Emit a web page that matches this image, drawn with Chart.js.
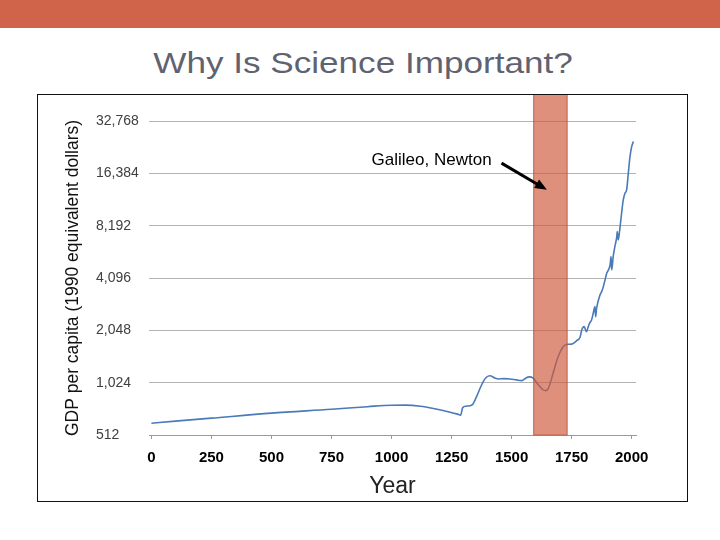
<!DOCTYPE html>
<html>
<head>
<meta charset="utf-8">
<script src="https://cdn.jsdelivr.net/npm/chart.js@4.4.1/dist/chart.umd.min.js"></script>
<style>
  body { margin: 0; width: 720px; height: 540px; background: #fff; position: relative; overflow: hidden; font-family: "Liberation Sans", Arial, sans-serif; }
  #bar { position: absolute; left: 0; top: 0; width: 720px; height: 28px; background: #d0644a; }
  #title { position: absolute; left: 3px; top: 48px; width: 720px; text-align: center; font-size: 30px; line-height: 30px; color: #5f6371; transform: scaleX(1.17); }
  #frame { position: absolute; left: 37px; top: 94px; width: 649px; height: 406px; border: 1px solid #111; }
  #frame canvas { position: absolute; left: 0; top: 0; }
</style>
</head>
<body>
<div id="bar"></div>
<div id="title">Why Is Science Important?</div>
<div id="frame"><canvas id="myChart" width="649" height="406"></canvas></div>
<script>
// world GDP per capita
const years = [0, 100, 250, 500, 750, 900, 1000, 1060, 1120, 1180, 1240, 1275, 1288, 1296, 1310, 1335,
  1354, 1370, 1382, 1395, 1410, 1430, 1444, 1470, 1493, 1520, 1542, 1560, 1572, 1590, 1605, 1618,
  1632, 1642, 1653, 1673, 1694, 1715, 1733, 1750, 1771, 1785, 1792, 1802, 1812, 1819, 1826, 1833,
  1840, 1847, 1850, 1854, 1868, 1875, 1882, 1889, 1896, 1903, 1910, 1914, 1917, 1923, 1930, 1938,
  1940, 1944, 1951, 1958, 1965, 1972, 1979, 1986, 1993, 2000, 2007];
const gdp = [598, 615, 640, 684, 720, 745, 760, 761, 750, 725, 695, 675, 666, 735, 750, 762,
  851, 960, 1039, 1100, 1122, 1090, 1076, 1080, 1076, 1062, 1052, 1090, 1105, 1086, 1020, 972,
  930, 922, 950, 1163, 1447, 1649, 1703, 1705, 1786, 1870, 2056, 2150, 2012, 2150, 2267, 2351,
  2570, 2805, 2455, 2745, 3270, 3420, 3655, 3990, 4360, 4555, 4865, 5435, 4555, 5435, 6200, 7085,
  7570, 6780, 7920, 9660, 11510, 12580, 13150, 16400, 20420, 23330, 24940];

const yTicks = [512, 1024, 2048, 4096, 8192, 16384, 32768];
const xTicks = [0, 250, 500, 750, 1000, 1250, 1500, 1750, 2000];

// shaded period and the note pointing at it
const band = [1590, 1733];
const note = ["Galileo, Newton", 917, 18340];
const arrow = [1458, 18750, 1647, 13170];

Chart.defaults.font.family = '"Liberation Sans", Arial, sans-serif';

const extras = {
  id: "extras",
  afterDatasetsDraw(chart) {
    const { ctx, scales: { x, y } } = chart;
    const x0 = x.getPixelForValue(band[0]);
    const x1 = x.getPixelForValue(band[1]);
    const yb = y.getPixelForValue(yTicks[0]);
    ctx.save();
    ctx.fillStyle = "rgba(208,92,62,0.68)";
    ctx.fillRect(x0, 0, x1 - x0, yb);
    ctx.strokeStyle = "rgba(175,68,45,0.6)";
    ctx.lineWidth = 1;
    ctx.strokeRect(x0 + 0.5, -1, x1 - x0 - 1, yb + 1);

    ctx.font = '17px "Liberation Sans", Arial, sans-serif';
    ctx.fillStyle = "#000";
    ctx.textBaseline = "alphabetic";
    ctx.textAlign = "left";
    ctx.fillText(note[0], x.getPixelForValue(note[1]), y.getPixelForValue(note[2]));

    const ax0 = x.getPixelForValue(arrow[0]), ay0 = y.getPixelForValue(arrow[1]);
    const ax1 = x.getPixelForValue(arrow[2]), ay1 = y.getPixelForValue(arrow[3]);
    const ang = Math.atan2(ay1 - ay0, ax1 - ax0);
    const head = 12;
    ctx.strokeStyle = "#000";
    ctx.lineWidth = 3;
    ctx.beginPath();
    ctx.moveTo(ax0, ay0);
    ctx.lineTo(ax1 - head * 0.8 * Math.cos(ang), ay1 - head * 0.8 * Math.sin(ang));
    ctx.stroke();
    ctx.beginPath();
    ctx.moveTo(ax1, ay1);
    ctx.lineTo(ax1 - head * Math.cos(ang) + 5 * Math.sin(ang), ay1 - head * Math.sin(ang) - 5 * Math.cos(ang));
    ctx.lineTo(ax1 - head * Math.cos(ang) - 5 * Math.sin(ang), ay1 - head * Math.sin(ang) + 5 * Math.cos(ang));
    ctx.closePath();
    ctx.fillStyle = "#000";
    ctx.fill();
    ctx.restore();
  },
};

const config = {
  type: "line",
  data: {
    datasets: [
      {
        label: "GDP per capita",
        data: years.map((yr, i) => ({ x: yr, y: gdp[i] })),
        borderColor: "#4a7ab8",
        borderWidth: 1.6,
        pointRadius: 0,
        cubicInterpolationMode: "monotone",
        fill: false,
      },
    ],
  },
  plugins: [extras],
  options: {
    responsive: false,
    animation: false,
    layout: { padding: { left: 58, top: 26, right: 51, bottom: 0 } },
    plugins: {
      legend: { display: false },
      tooltip: { enabled: false },
    },
    scales: {
      x: {
        type: "linear",
        min: -10,
        max: 2018,
        afterBuildTicks: (s) => { s.ticks = xTicks.map((v) => ({ value: v })); },
        afterFit: (s) => { s.height = 66; s.paddingLeft = 0; s.paddingRight = 0; },
        grid: { drawOnChartArea: false, drawTicks: true, tickLength: 4, color: "#9a9a9a" },
        border: { color: "#9a9a9a" },
        ticks: {
          padding: 10,
          color: "#000",
          font: { size: 15, weight: "bold" },
          maxRotation: 0,
          autoSkip: false,
          callback: (v) => String(v),
        },
        title: { display: true, text: "Year", color: "#222", font: { size: 23 }, padding: { top: 0, bottom: 1 } },
      },
      y: {
        type: "logarithmic",
        min: 512,
        max: 32768,
        afterBuildTicks: (s) => { s.ticks = yTicks.map((v) => ({ value: v })); },
        afterFit: (s) => { s.width = 53; s.paddingTop = 0; s.paddingBottom = 0; },
        grid: { color: "#b4b4b4", drawTicks: false },
        border: { display: false },
        ticks: {
          crossAlign: "far",
          color: "#404040",
          font: { size: 14 },
          callback: (v) => Number(v).toLocaleString("en-US"),
        },
        title: {
          display: true,
          text: "GDP per capita (1990 equivalent dollars)",
          color: "#111",
          font: { size: 17.5 },
          padding: { top: -33.5, bottom: 0 },
        },
      },
    },
  },
};

const myChart = new Chart(document.getElementById("myChart"), config);
</script>
</body>
</html>
